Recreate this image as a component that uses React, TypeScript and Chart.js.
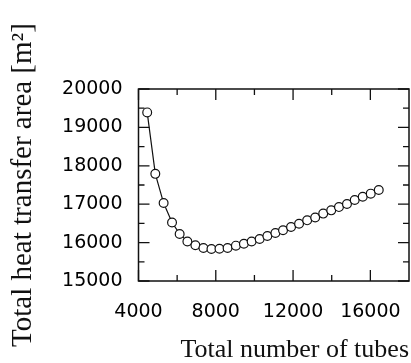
import React, { useEffect, useRef } from "react";
import { Chart, registerables } from "chart.js";

Chart.register(...registerables);

const tubes = [4450, 4870, 5300, 5735, 6130, 6530, 6945, 7360, 7775, 8190, 8610, 9040, 9455, 9855, 10270, 10670, 11085, 11480, 11895, 12310, 12730, 13145, 13560, 13975, 14375, 14790, 15190, 15605, 16020, 16435];
const area = [19390, 17790, 17030, 16525, 16225, 16030, 15930, 15860, 15835, 15840, 15860, 15920, 15970, 16030, 16095, 16170, 16250, 16320, 16405, 16490, 16580, 16655, 16755, 16840, 16925, 17005, 17110, 17195, 17275, 17370];
const xTickValues = [4000, 8000, 12000, 16000];
const xMinorValues = [6000, 10000, 14000];
const yTickValues = [15000, 16000, 17000, 18000, 19000, 20000];
const yMinorValues = [15500, 16500, 17500, 18500, 19500];

const frameTicks = {
  id: "frameTicks",
  beforeDatasetsDraw(chart: any) {
    const { ctx, chartArea } = chart;
    const { left, right, top, bottom } = chartArea;
    const xs = chart.scales.x;
    const ys = chart.scales.y;
    ctx.save();
    ctx.strokeStyle = "#111";
    ctx.lineWidth = 1.5;
    ctx.strokeRect(left, top, right - left, bottom - top);
    ctx.lineWidth = 1.3;
    const major = 11;
    const minor = 6;
    const drawX = (v: number, len: number) => {
      const px = xs.getPixelForValue(v);
      ctx.beginPath();
      ctx.moveTo(px, bottom);
      ctx.lineTo(px, bottom - len);
      ctx.moveTo(px, top);
      ctx.lineTo(px, top + len);
      ctx.stroke();
    };
    const drawY = (v: number, len: number) => {
      const py = ys.getPixelForValue(v);
      ctx.beginPath();
      ctx.moveTo(left, py);
      ctx.lineTo(left + len, py);
      ctx.moveTo(right, py);
      ctx.lineTo(right - len, py);
      ctx.stroke();
    };
    xTickValues.forEach((v) => drawX(v, major));
    xMinorValues.forEach((v) => drawX(v, minor));
    yTickValues.forEach((v) => drawY(v, major));
    yMinorValues.forEach((v) => drawY(v, minor));
    ctx.restore();
  },
};

export default function App() {
  const ref = useRef<HTMLCanvasElement | null>(null);
  useEffect(() => {
    if (!ref.current) return;
    const chart = new Chart(ref.current, {
      type: "line",
      data: {
        datasets: [
          {
            data: tubes.map((t, i) => ({ x: t, y: area[i] })),
            borderColor: "#111",
            borderWidth: 1.2,
            pointRadius: 4.4,
            pointBackgroundColor: "#fff",
            pointBorderColor: "#111",
            pointBorderWidth: 1.2,
            tension: 0,
          },
        ],
      },
      options: {
        animation: false,
        responsive: false,
        maintainAspectRatio: false,
        layout: { autoPadding: false, padding: { left: 0, top: 89, right: 2, bottom: 0 } },
        plugins: { legend: { display: false }, tooltip: { enabled: false } },
        scales: {
          x: {
            type: "linear",
            min: 4000,
            max: 18000,
            afterBuildTicks: (s: any) => {
              s.ticks = xTickValues.map((v) => ({ value: v }));
            },
            afterFit: (s: any) => {
              s.height = 82;
              s.paddingLeft = 0;
              s.paddingRight = 0;
            },
            grid: { display: false, drawTicks: false },
            border: { display: false },
            ticks: {
              padding: 20,
              color: "#000",
              font: { family: "DejaVu Sans", size: 19 },
              callback: (v: any) => String(v),
              maxRotation: 0,
            },
            title: {
              display: true,
              text: "Total number of tubes",
              align: "end",
              color: "#111",
              font: { family: "Liberation Serif", size: 26 },
              padding: { top: 0, bottom: -3 },
            },
          },
          y: {
            type: "linear",
            min: 15000,
            max: 20000,
            afterBuildTicks: (s: any) => {
              s.ticks = yTickValues.map((v) => ({ value: v }));
            },
            afterFit: (s: any) => {
              s.width = 138.5;
              s.paddingTop = 0;
              s.paddingBottom = 0;
            },
            grid: { display: false, drawTicks: false },
            border: { display: false },
            ticks: {
              padding: 16,
              color: "#000",
              font: { family: "DejaVu Sans", size: 19 },
              callback: (v: any) => String(v),
            },
            title: {
              display: true,
              text: "Total heat transfer area [m²]",
              color: "#111",
              font: { family: "Liberation Serif", size: 29 },
              padding: { top: 6, bottom: 0 },
            },
          },
        },
      },
      plugins: [frameTicks],
    } as any);
    return () => chart.destroy();
  }, []);
  return (
    <div style={{ position: "fixed", left: 0, top: 0, width: 411, height: 363, background: "#fff" }}>
      <canvas ref={ref} width={411} height={363} style={{ width: 411, height: 363, display: "block" }} />
    </div>
  );
}
